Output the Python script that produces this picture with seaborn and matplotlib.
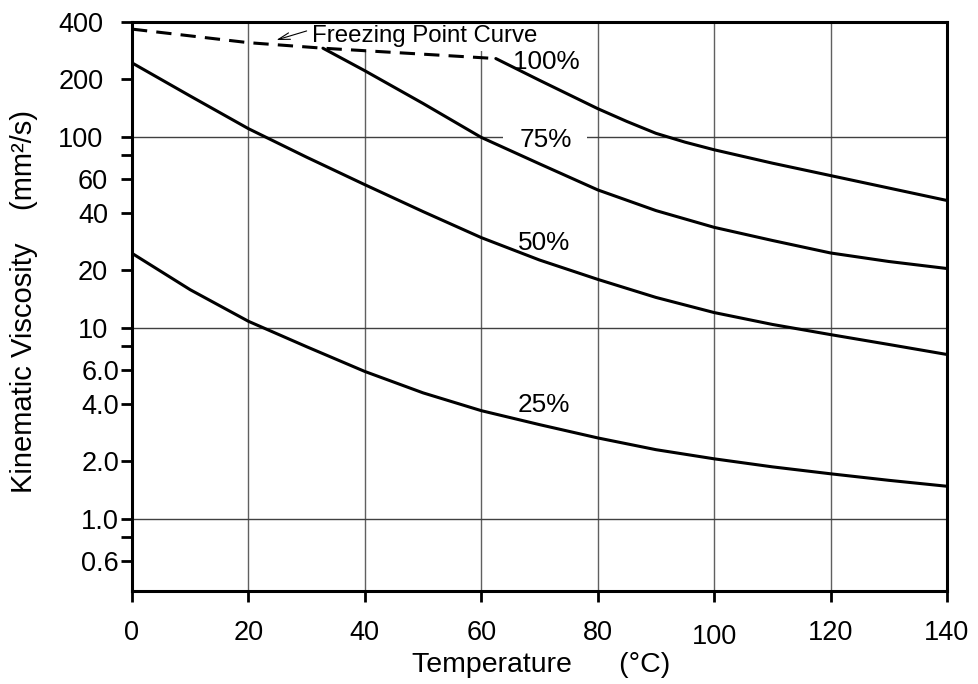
import matplotlib
matplotlib.use("Agg")
import matplotlib.pyplot as plt
from matplotlib.ticker import FixedLocator, NullFormatter
import pandas as pd
import seaborn as sns

sns.set_theme(style="white")
plt.rcParams["font.family"] = ["Liberation Sans", "DejaVu Sans"]

# Kinematic viscosity (mm²/s) against temperature (°C) by concentration
temp_25 = [0, 10, 20, 30, 40, 50, 60, 70, 80, 90, 100, 110, 120, 130, 140]
visc_25 = [24.5, 15.8, 10.8, 7.95, 5.9, 4.56, 3.68, 3.11, 2.65, 2.30, 2.06, 1.87, 1.72, 1.59, 1.48]

temp_50 = [0, 10, 20, 30, 40, 50, 60, 70, 80, 90, 100, 110, 120, 130, 140]
visc_50 = [243, 163, 110, 78, 56, 40.5, 29.6, 22.6, 17.9, 14.4, 12.0, 10.4, 9.2, 8.17, 7.24]

temp_75 = [32.8, 40, 50, 60, 70, 80, 90, 100, 110, 120, 130, 140]
visc_75 = [290, 221, 149, 99, 72, 52.6, 41, 33.5, 28.6, 24.6, 22.2, 20.4]

temp_100 = [62.5, 70, 80, 85, 90, 95, 100, 110, 120, 130, 140]
visc_100 = [256, 197, 140, 120, 104, 93.5, 85.3, 72.6, 62.5, 53.8, 46.3]

# Freezing point curve (dashed)
temp_freeze = [0, 20, 32.8, 62.5]
visc_freeze = [365, 310, 290, 256]

curve_labels = ["25%", "50%", "75%", "100%"]
label_temp = [70.8, 70.8, 71.0, 71.2]
label_visc = [3.94, 27.8, 96.4, 246]

x_ticks = [0, 20, 40, 60, 80, 100, 120, 140]
y_ticks = [0.6, 1, 2, 4, 6, 10, 20, 40, 60, 100, 200, 400]
y_tick_labels = ["0.6", "1.0", "2.0", "4.0", "6.0", "10", "20", "40", "60", "100", "200", "400"]
y_minor_ticks = [0.8, 8, 80]
x_grid = [20, 40, 60, 80, 100, 120]
y_grid = [1, 10, 100]

Y_MIN, Y_MAX = 0.419, 400

frames = []
for name, t, v in [("25%", temp_25, visc_25), ("50%", temp_50, visc_50),
                   ("75%", temp_75, visc_75), ("100%", temp_100, visc_100)]:
    frames.append(pd.DataFrame({"temp": t, "visc": v, "conc": name}))
curves = pd.concat(frames, ignore_index=True)
freeze = pd.DataFrame({"temp": temp_freeze, "visc": visc_freeze})

fig = plt.figure(figsize=(9.79, 6.84), dpi=100)
ax = fig.add_axes([0.13483, 0.13596, 0.83248, 0.83260])
ax.set_yscale("log")

# grid lines
ax.vlines(x_grid, Y_MIN, Y_MAX, color="#606060", lw=1.0, zorder=1)
ax.hlines(y_grid, 0, 140, color="#404040", lw=1.0, zorder=1)

for name in curve_labels:
    sub = curves[curves["conc"] == name]
    sns.lineplot(data=sub, x="temp", y="visc", ax=ax, color="black", lw=2.2,
                 sort=False, estimator=None, zorder=4, legend=False)

sns.lineplot(data=freeze, x="temp", y="visc", ax=ax, color="black", lw=2.2,
             sort=False, estimator=None, zorder=4, legend=False)
ax.lines[-1].set_dashes([5, 3])

# curve labels
for txt, tx, vy in zip(curve_labels, label_temp, label_visc):
    kw = {}
    if txt == "75%":
        kw["bbox"] = dict(boxstyle="square,pad=0.6", fc="white", ec="none")
    ax.text(tx, vy, txt, ha="center", va="center", fontsize=18.8,
            color="black", zorder=2, **kw)

ax.text(31.0, 335, "Freezing Point Curve", ha="left", va="center",
        fontsize=17.3, color="black", zorder=2,
        bbox=dict(boxstyle="square,pad=0.15", fc="white", ec="none"))
ax.annotate("", xy=(24.8, 320), xytext=(30.0, 357),
            arrowprops=dict(arrowstyle="->,head_length=0.7,head_width=0.2",
                            lw=0.8, color="black", shrinkA=0, shrinkB=0),
            zorder=5)

ax.set_xlim(0, 140)
ax.set_ylim(Y_MIN, Y_MAX)

ax.set_xticks(x_ticks)
ax.set_xticklabels([str(t) for t in x_ticks])
ax.set_yticks(y_ticks)
ax.set_yticklabels(y_tick_labels)
ax.yaxis.set_minor_locator(FixedLocator(y_minor_ticks))
ax.yaxis.set_minor_formatter(NullFormatter())

ax.tick_params(axis="both", which="both", direction="out", color="black",
               width=2.0, length=7.8, labelcolor="black")
ax.tick_params(axis="x", which="major", labelsize=19.5, pad=13, bottom=True)
ax.tick_params(axis="y", which="major", labelsize=19.5, pad=1.5, left=True)
ax.tick_params(axis="y", which="minor", left=True)

for sp in ax.spines.values():
    sp.set_visible(True)
    sp.set_color("black")
    sp.set_linewidth(2.2)
    sp.set_zorder(6)

# integer y labels sit further from the axis than decimal ones
for lbl in ax.get_yticklabels():
    s = lbl.get_text()
    if "." not in s:
        shift_px = 15.5 if len(s) == 3 else 11.0
        lbl.set_x(-shift_px / 815.0)

for lbl in ax.get_xticklabels():
    if lbl.get_text() == "100":
        lbl.set_y(-4.5 / 569.5)

ax.set_xlabel("Temperature      (°C)", fontsize=20.5, color="black", va="center")
ax.xaxis.set_label_coords(0.502, -0.130)
ax.set_ylabel("Kinematic Viscosity    (mm²/s)", fontsize=21, color="black",
              va="center")
ax.yaxis.set_label_coords(-0.1325, 0.5075)

fig.savefig("out.png", dpi=100)
